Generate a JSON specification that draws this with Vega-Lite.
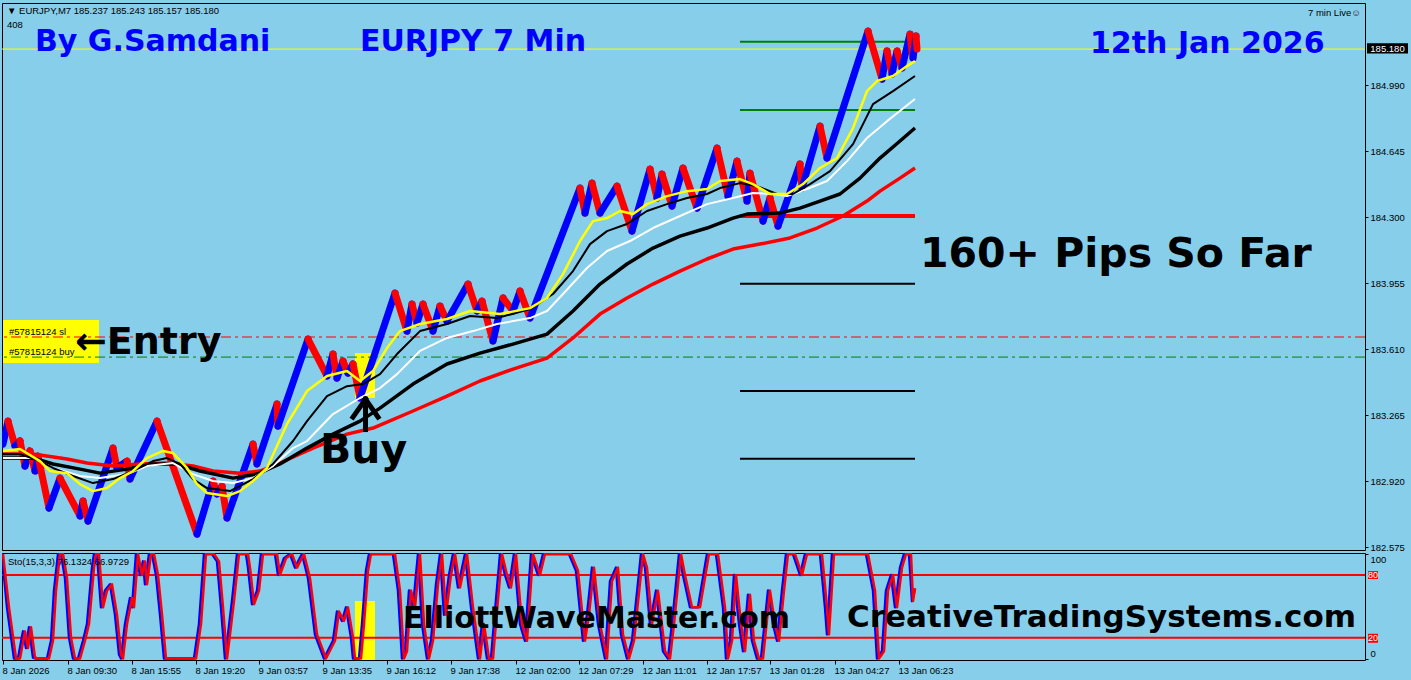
{
"$schema": "https://vega.github.io/schema/vega-lite/v6.json",
"background": "#87CEEB",
"padding": {"left": 0, "top": 2, "right": 3, "bottom": 6},
"spacing": 3,
"bounds": "flush",
"config": {"view": {"stroke": "#000000", "strokeWidth": 1}, "axis": {"labelFont": "Liberation Sans", "labelFontSize": 9.5, "labelColor": "#000000", "tickColor": "#000000", "domain": false, "grid": false, "tickSize": 3, "labelPadding": 2}},
"datasets": {
"seg": [
{"b":0,"p":183.114,"b2":5,"p2":183.234,"d":"u"},{"b":5,"p":183.234,"b2":12,"p2":183.104,"d":"d"},{"b":12,"p":183.104,"b2":17,"p2":183.130,"d":"u"},{"b":17,"p":183.130,"b2":22,"p2":182.999,"d":"d"},{"b":22,"p":182.999,"b2":27,"p2":183.078,"d":"u"},{"b":27,"p":183.078,"b2":32,"p2":182.973,"d":"d"},{"b":32,"p":182.973,"b2":35,"p2":183.051,"d":"u"},{"b":35,"p":183.051,"b2":46,"p2":182.779,"d":"d"},{"b":46,"p":182.779,"b2":57,"p2":182.936,"d":"u"},{"b":57,"p":182.936,"b2":77,"p2":182.738,"d":"d"},{"b":77,"p":182.738,"b2":80,"p2":182.816,"d":"u"},{"b":80,"p":182.816,"b2":85,"p2":182.711,"d":"d"},{"b":85,"p":182.711,"b2":110,"p2":183.093,"d":"u"},{"b":110,"p":183.093,"b2":114,"p2":182.989,"d":"d"},{"b":114,"p":182.989,"b2":124,"p2":183.025,"d":"u"},{"b":124,"p":183.025,"b2":127,"p2":182.931,"d":"d"},{"b":127,"p":182.931,"b2":154,"p2":183.234,"d":"u"},{"b":154,"p":183.234,"b2":194,"p2":182.643,"d":"d"},{"b":194,"p":182.643,"b2":210,"p2":182.921,"d":"u"},{"b":210,"p":182.921,"b2":214,"p2":182.853,"d":"d"},{"b":214,"p":182.853,"b2":219,"p2":182.894,"d":"u"},{"b":219,"p":182.894,"b2":224,"p2":182.727,"d":"d"},{"b":224,"p":182.727,"b2":250,"p2":183.114,"d":"u"},{"b":250,"p":183.114,"b2":254,"p2":183.010,"d":"d"},{"b":254,"p":183.010,"b2":274,"p2":183.323,"d":"u"},{"b":274,"p":183.323,"b2":275,"p2":183.208,"d":"d"},{"b":275,"p":183.208,"b2":305,"p2":183.663,"d":"u"},{"b":305,"p":183.663,"b2":324,"p2":183.470,"d":"d"},{"b":324,"p":183.470,"b2":330,"p2":183.585,"d":"u"},{"b":330,"p":183.585,"b2":334,"p2":183.459,"d":"d"},{"b":334,"p":183.459,"b2":340,"p2":183.548,"d":"u"},{"b":340,"p":183.548,"b2":345,"p2":183.485,"d":"d"},{"b":345,"p":183.485,"b2":350,"p2":183.533,"d":"u"},{"b":350,"p":183.533,"b2":357,"p2":183.355,"d":"d"},{"b":357,"p":183.355,"b2":392,"p2":183.904,"d":"u"},{"b":392,"p":183.904,"b2":404,"p2":183.705,"d":"d"},{"b":404,"p":183.705,"b2":409,"p2":183.846,"d":"u"},{"b":409,"p":183.846,"b2":414,"p2":183.747,"d":"d"},{"b":414,"p":183.747,"b2":420,"p2":183.846,"d":"u"},{"b":420,"p":183.846,"b2":430,"p2":183.705,"d":"d"},{"b":430,"p":183.705,"b2":437,"p2":183.836,"d":"u"},{"b":437,"p":183.836,"b2":444,"p2":183.757,"d":"d"},{"b":444,"p":183.757,"b2":465,"p2":183.951,"d":"u"},{"b":465,"p":183.951,"b2":474,"p2":183.810,"d":"d"},{"b":474,"p":183.810,"b2":479,"p2":183.862,"d":"u"},{"b":479,"p":183.862,"b2":490,"p2":183.653,"d":"d"},{"b":490,"p":183.653,"b2":500,"p2":183.878,"d":"u"},{"b":500,"p":183.878,"b2":510,"p2":183.810,"d":"d"},{"b":510,"p":183.810,"b2":517,"p2":183.914,"d":"u"},{"b":517,"p":183.914,"b2":527,"p2":183.773,"d":"d"},{"b":527,"p":183.773,"b2":577,"p2":184.453,"d":"u"},{"b":577,"p":184.453,"b2":582,"p2":184.322,"d":"d"},{"b":582,"p":184.322,"b2":589,"p2":184.479,"d":"u"},{"b":589,"p":184.479,"b2":597,"p2":184.322,"d":"d"},{"b":597,"p":184.322,"b2":614,"p2":184.463,"d":"u"},{"b":614,"p":184.463,"b2":629,"p2":184.228,"d":"d"},{"b":629,"p":184.228,"b2":647,"p2":184.552,"d":"u"},{"b":647,"p":184.552,"b2":654,"p2":184.401,"d":"d"},{"b":654,"p":184.401,"b2":659,"p2":184.526,"d":"u"},{"b":659,"p":184.526,"b2":669,"p2":184.359,"d":"d"},{"b":669,"p":184.359,"b2":680,"p2":184.558,"d":"u"},{"b":680,"p":184.558,"b2":694,"p2":184.348,"d":"d"},{"b":694,"p":184.348,"b2":714,"p2":184.662,"d":"u"},{"b":714,"p":184.662,"b2":725,"p2":184.411,"d":"d"},{"b":725,"p":184.411,"b2":734,"p2":184.594,"d":"u"},{"b":734,"p":184.594,"b2":744,"p2":184.385,"d":"d"},{"b":744,"p":184.385,"b2":747,"p2":184.531,"d":"u"},{"b":747,"p":184.531,"b2":760,"p2":184.280,"d":"d"},{"b":760,"p":184.280,"b2":767,"p2":184.401,"d":"u"},{"b":767,"p":184.401,"b2":775,"p2":184.254,"d":"d"},{"b":775,"p":184.254,"b2":797,"p2":184.579,"d":"u"},{"b":797,"p":184.579,"b2":799,"p2":184.453,"d":"d"},{"b":799,"p":184.453,"b2":817,"p2":184.777,"d":"u"},{"b":817,"p":184.777,"b2":824,"p2":184.610,"d":"d"},{"b":824,"p":184.610,"b2":865,"p2":185.274,"d":"u"},{"b":865,"p":185.274,"b2":879,"p2":185.023,"d":"d"},{"b":879,"p":185.023,"b2":884,"p2":185.170,"d":"u"},{"b":884,"p":185.170,"b2":889,"p2":185.049,"d":"d"},{"b":889,"p":185.049,"b2":894,"p2":185.170,"d":"u"},{"b":894,"p":185.170,"b2":899,"p2":185.081,"d":"d"},{"b":899,"p":185.081,"b2":907,"p2":185.258,"d":"u"},{"b":907,"p":185.258,"b2":910,"p2":185.133,"d":"d"},{"b":910,"p":185.133,"b2":913,"p2":185.248,"d":"u"},{"b":913,"p":185.248,"b2":914,"p2":185.180,"d":"d"}
],
"ma": [
{"m":"y","b":0,"p":183.078},{"m":"y","b":17,"p":183.088},{"m":"y","b":37,"p":183.025},{"m":"y","b":47,"p":182.973},{"m":"y","b":64,"p":182.962},{"m":"y","b":77,"p":182.905},{"m":"y","b":90,"p":182.868},{"m":"y","b":104,"p":182.884},{"m":"y","b":117,"p":182.936},{"m":"y","b":130,"p":182.973},{"m":"y","b":144,"p":183.041},{"m":"y","b":160,"p":183.078},{"m":"y","b":170,"p":183.067},{"m":"y","b":184,"p":182.989},{"m":"y","b":194,"p":182.905},{"m":"y","b":204,"p":182.858},{"m":"y","b":224,"p":182.842},{"m":"y","b":237,"p":182.868},{"m":"y","b":250,"p":182.921},{"m":"y","b":264,"p":182.989},{"m":"y","b":284,"p":183.219},{"m":"y","b":304,"p":183.391},{"m":"y","b":324,"p":183.470},{"m":"y","b":344,"p":183.496},{"m":"y","b":357,"p":183.444},{"m":"y","b":370,"p":183.496},{"m":"y","b":384,"p":183.616},{"m":"y","b":397,"p":183.705},{"m":"y","b":417,"p":183.742},{"m":"y","b":444,"p":183.768},{"m":"y","b":467,"p":183.810},{"m":"y","b":497,"p":183.794},{"m":"y","b":527,"p":183.825},{"m":"y","b":544,"p":183.878},{"m":"y","b":560,"p":184.003},{"m":"y","b":577,"p":184.176},{"m":"y","b":590,"p":184.280},{"m":"y","b":604,"p":184.296},{"m":"y","b":617,"p":184.333},{"m":"y","b":630,"p":184.317},{"m":"y","b":644,"p":184.369},{"m":"y","b":664,"p":184.411},{"m":"y","b":684,"p":184.437},{"m":"y","b":704,"p":184.448},{"m":"y","b":717,"p":184.490},{"m":"y","b":737,"p":184.500},{"m":"y","b":750,"p":184.474},{"m":"y","b":767,"p":184.422},{"m":"y","b":784,"p":184.422},{"m":"y","b":800,"p":184.474},{"m":"y","b":817,"p":184.558},{"m":"y","b":834,"p":184.610},{"m":"y","b":850,"p":184.767},{"m":"y","b":864,"p":184.960},{"m":"y","b":874,"p":185.013},{"m":"y","b":890,"p":185.039},{"m":"y","b":904,"p":185.091},{"m":"y","b":912,"p":185.117},
{"m":"k1","b":0,"p":183.062},{"m":"k1","b":17,"p":183.062},{"m":"k1","b":37,"p":183.025},{"m":"k1","b":50,"p":182.989},{"m":"k1","b":70,"p":182.947},{"m":"k1","b":90,"p":182.910},{"m":"k1","b":110,"p":182.931},{"m":"k1","b":130,"p":182.973},{"m":"k1","b":150,"p":183.025},{"m":"k1","b":164,"p":183.041},{"m":"k1","b":177,"p":183.010},{"m":"k1","b":190,"p":182.931},{"m":"k1","b":204,"p":182.884},{"m":"k1","b":227,"p":182.868},{"m":"k1","b":250,"p":182.931},{"m":"k1","b":270,"p":183.010},{"m":"k1","b":290,"p":183.130},{"m":"k1","b":304,"p":183.234},{"m":"k1","b":324,"p":183.365},{"m":"k1","b":344,"p":183.417},{"m":"k1","b":360,"p":183.428},{"m":"k1","b":377,"p":183.480},{"m":"k1","b":394,"p":183.585},{"m":"k1","b":417,"p":183.705},{"m":"k1","b":444,"p":183.742},{"m":"k1","b":467,"p":183.784},{"m":"k1","b":494,"p":183.773},{"m":"k1","b":527,"p":183.820},{"m":"k1","b":550,"p":183.899},{"m":"k1","b":570,"p":184.019},{"m":"k1","b":587,"p":184.160},{"m":"k1","b":604,"p":184.228},{"m":"k1","b":624,"p":184.265},{"m":"k1","b":644,"p":184.333},{"m":"k1","b":664,"p":184.369},{"m":"k1","b":684,"p":184.401},{"m":"k1","b":704,"p":184.422},{"m":"k1","b":717,"p":184.453},{"m":"k1","b":737,"p":184.479},{"m":"k1","b":754,"p":184.463},{"m":"k1","b":774,"p":184.422},{"m":"k1","b":790,"p":184.422},{"m":"k1","b":807,"p":184.474},{"m":"k1","b":827,"p":184.542},{"m":"k1","b":850,"p":184.683},{"m":"k1","b":870,"p":184.892},{"m":"k1","b":890,"p":184.960},{"m":"k1","b":912,"p":185.039},
{"m":"w","b":0,"p":183.041},{"m":"w","b":30,"p":183.041},{"m":"w","b":50,"p":182.989},{"m":"w","b":77,"p":182.947},{"m":"w","b":97,"p":182.936},{"m":"w","b":124,"p":182.957},{"m":"w","b":144,"p":182.999},{"m":"w","b":170,"p":183.015},{"m":"w","b":190,"p":182.957},{"m":"w","b":210,"p":182.921},{"m":"w","b":230,"p":182.910},{"m":"w","b":250,"p":182.936},{"m":"w","b":270,"p":182.999},{"m":"w","b":290,"p":183.093},{"m":"w","b":304,"p":183.130},{"m":"w","b":330,"p":183.271},{"m":"w","b":357,"p":183.355},{"m":"w","b":377,"p":183.407},{"m":"w","b":394,"p":183.480},{"m":"w","b":417,"p":183.601},{"m":"w","b":444,"p":183.669},{"m":"w","b":470,"p":183.705},{"m":"w","b":494,"p":183.742},{"m":"w","b":527,"p":183.773},{"m":"w","b":544,"p":183.810},{"m":"w","b":560,"p":183.899},{"m":"w","b":584,"p":184.035},{"m":"w","b":604,"p":184.124},{"m":"w","b":627,"p":184.176},{"m":"w","b":650,"p":184.244},{"m":"w","b":677,"p":184.307},{"m":"w","b":704,"p":184.369},{"m":"w","b":730,"p":184.401},{"m":"w","b":750,"p":184.427},{"m":"w","b":770,"p":184.422},{"m":"w","b":784,"p":184.411},{"m":"w","b":804,"p":184.448},{"m":"w","b":824,"p":184.490},{"m":"w","b":844,"p":184.594},{"m":"w","b":864,"p":184.715},{"m":"w","b":884,"p":184.803},{"m":"w","b":912,"p":184.919},
{"m":"k2","b":0,"p":183.041},{"m":"k2","b":30,"p":183.041},{"m":"k2","b":50,"p":183.010},{"m":"k2","b":77,"p":182.983},{"m":"k2","b":97,"p":182.962},{"m":"k2","b":124,"p":182.983},{"m":"k2","b":150,"p":183.010},{"m":"k2","b":174,"p":183.010},{"m":"k2","b":197,"p":182.973},{"m":"k2","b":230,"p":182.936},{"m":"k2","b":254,"p":182.957},{"m":"k2","b":277,"p":183.010},{"m":"k2","b":304,"p":183.093},{"m":"k2","b":330,"p":183.166},{"m":"k2","b":357,"p":183.234},{"m":"k2","b":377,"p":183.302},{"m":"k2","b":410,"p":183.428},{"m":"k2","b":444,"p":183.533},{"m":"k2","b":477,"p":183.590},{"m":"k2","b":510,"p":183.637},{"m":"k2","b":544,"p":183.689},{"m":"k2","b":570,"p":183.810},{"m":"k2","b":597,"p":183.951},{"m":"k2","b":624,"p":184.056},{"m":"k2","b":650,"p":184.139},{"m":"k2","b":677,"p":184.202},{"m":"k2","b":704,"p":184.244},{"m":"k2","b":730,"p":184.296},{"m":"k2","b":744,"p":184.317},{"m":"k2","b":777,"p":184.322},{"m":"k2","b":797,"p":184.348},{"m":"k2","b":817,"p":184.385},{"m":"k2","b":837,"p":184.422},{"m":"k2","b":857,"p":184.505},{"m":"k2","b":877,"p":184.610},{"m":"k2","b":897,"p":184.699},{"m":"k2","b":912,"p":184.767},
{"m":"r","b":0,"p":183.062},{"m":"r","b":30,"p":183.062},{"m":"r","b":64,"p":183.036},{"m":"r","b":84,"p":183.015},{"m":"r","b":110,"p":182.999},{"m":"r","b":137,"p":183.010},{"m":"r","b":164,"p":183.015},{"m":"r","b":190,"p":182.999},{"m":"r","b":210,"p":182.973},{"m":"r","b":237,"p":182.962},{"m":"r","b":257,"p":182.973},{"m":"r","b":277,"p":183.015},{"m":"r","b":297,"p":183.062},{"m":"r","b":310,"p":183.093},{"m":"r","b":344,"p":183.166},{"m":"r","b":370,"p":183.198},{"m":"r","b":410,"p":183.287},{"m":"r","b":444,"p":183.365},{"m":"r","b":477,"p":183.444},{"m":"r","b":510,"p":183.506},{"m":"r","b":544,"p":183.564},{"m":"r","b":570,"p":183.669},{"m":"r","b":597,"p":183.794},{"m":"r","b":624,"p":183.878},{"m":"r","b":650,"p":183.951},{"m":"r","b":677,"p":184.019},{"m":"r","b":704,"p":184.082},{"m":"r","b":730,"p":184.134},{"m":"r","b":757,"p":184.160},{"m":"r","b":787,"p":184.192},{"m":"r","b":814,"p":184.244},{"m":"r","b":840,"p":184.307},{"m":"r","b":864,"p":184.385},{"m":"r","b":877,"p":184.437},{"m":"r","b":897,"p":184.505},{"m":"r","b":912,"p":184.558}
],
"sto": [
{"b":0,"k":-1,"v":100},{"b":6,"k":4,"v":49},{"b":13,"k":11,"v":0},{"b":17,"k":15,"v":0},{"b":22,"k":20,"v":26},{"b":25,"k":23,"v":10},{"b":28,"k":26,"v":30},{"b":32,"k":30,"v":1},{"b":35,"k":33,"v":0},{"b":46,"k":44,"v":0},{"b":50,"k":48,"v":17},{"b":53,"k":51,"v":65},{"b":57,"k":55,"v":100},{"b":60,"k":58,"v":100},{"b":64,"k":62,"v":77},{"b":68,"k":66,"v":20},{"b":72,"k":70,"v":0},{"b":77,"k":75,"v":0},{"b":82,"k":80,"v":17},{"b":86,"k":84,"v":33},{"b":91,"k":89,"v":87},{"b":93,"k":91,"v":100},{"b":96,"k":94,"v":100},{"b":100,"k":98,"v":49},{"b":104,"k":102,"v":65},{"b":109,"k":107,"v":71},{"b":114,"k":112,"v":42},{"b":118,"k":116,"v":4},{"b":120,"k":118,"v":0},{"b":124,"k":122,"v":33},{"b":129,"k":127,"v":58},{"b":131,"k":129,"v":49},{"b":135,"k":133,"v":100},{"b":139,"k":137,"v":80},{"b":142,"k":140,"v":93},{"b":144,"k":142,"v":71},{"b":148,"k":146,"v":100},{"b":151,"k":149,"v":100},{"b":155,"k":153,"v":80},{"b":159,"k":157,"v":42},{"b":163,"k":161,"v":0},{"b":193,"k":191,"v":0},{"b":198,"k":196,"v":33},{"b":203,"k":201,"v":100},{"b":211,"k":209,"v":100},{"b":216,"k":214,"v":93},{"b":220,"k":218,"v":49},{"b":224,"k":222,"v":0},{"b":227,"k":225,"v":23},{"b":231,"k":229,"v":55},{"b":236,"k":234,"v":100},{"b":245,"k":243,"v":100},{"b":247,"k":245,"v":87},{"b":251,"k":249,"v":52},{"b":256,"k":254,"v":65},{"b":260,"k":258,"v":100},{"b":274,"k":272,"v":100},{"b":277,"k":275,"v":80},{"b":283,"k":281,"v":96},{"b":289,"k":287,"v":100},{"b":294,"k":292,"v":87},{"b":301,"k":299,"v":100},{"b":307,"k":305,"v":77},{"b":314,"k":312,"v":23},{"b":323,"k":321,"v":0},{"b":332,"k":330,"v":17},{"b":336,"k":334,"v":45},{"b":341,"k":339,"v":36},{"b":345,"k":343,"v":49},{"b":350,"k":348,"v":20},{"b":352,"k":350,"v":0},{"b":358,"k":356,"v":0},{"b":361,"k":359,"v":33},{"b":365,"k":363,"v":84},{"b":368,"k":366,"v":100},{"b":392,"k":390,"v":100},{"b":397,"k":395,"v":65},{"b":401,"k":399,"v":0},{"b":404,"k":402,"v":7},{"b":408,"k":406,"v":65},{"b":412,"k":410,"v":49},{"b":417,"k":415,"v":100},{"b":421,"k":419,"v":33},{"b":426,"k":424,"v":0},{"b":430,"k":428,"v":17},{"b":435,"k":433,"v":71},{"b":439,"k":437,"v":100},{"b":443,"k":441,"v":42},{"b":448,"k":446,"v":80},{"b":452,"k":450,"v":100},{"b":457,"k":455,"v":68},{"b":464,"k":462,"v":100},{"b":470,"k":468,"v":49},{"b":477,"k":475,"v":0},{"b":481,"k":479,"v":33},{"b":486,"k":484,"v":0},{"b":490,"k":488,"v":0},{"b":492,"k":490,"v":23},{"b":499,"k":497,"v":100},{"b":504,"k":502,"v":80},{"b":508,"k":506,"v":68},{"b":513,"k":511,"v":100},{"b":519,"k":517,"v":33},{"b":524,"k":522,"v":17},{"b":530,"k":528,"v":100},{"b":537,"k":535,"v":80},{"b":542,"k":540,"v":100},{"b":568,"k":566,"v":100},{"b":575,"k":573,"v":84},{"b":582,"k":580,"v":17},{"b":586,"k":584,"v":42},{"b":591,"k":589,"v":87},{"b":597,"k":595,"v":33},{"b":604,"k":602,"v":0},{"b":609,"k":607,"v":74},{"b":615,"k":613,"v":87},{"b":620,"k":618,"v":23},{"b":626,"k":624,"v":0},{"b":631,"k":629,"v":17},{"b":640,"k":638,"v":100},{"b":644,"k":642,"v":87},{"b":649,"k":647,"v":33},{"b":655,"k":653,"v":65},{"b":662,"k":660,"v":7},{"b":667,"k":665,"v":0},{"b":671,"k":669,"v":33},{"b":678,"k":676,"v":100},{"b":682,"k":680,"v":80},{"b":689,"k":687,"v":49},{"b":697,"k":695,"v":49},{"b":706,"k":704,"v":100},{"b":715,"k":713,"v":100},{"b":722,"k":720,"v":49},{"b":725,"k":723,"v":0},{"b":729,"k":727,"v":17},{"b":733,"k":731,"v":80},{"b":738,"k":736,"v":33},{"b":742,"k":740,"v":7},{"b":747,"k":745,"v":61},{"b":751,"k":749,"v":17},{"b":756,"k":754,"v":0},{"b":760,"k":758,"v":0},{"b":767,"k":765,"v":65},{"b":772,"k":770,"v":33},{"b":776,"k":774,"v":17},{"b":781,"k":779,"v":65},{"b":785,"k":783,"v":100},{"b":792,"k":790,"v":100},{"b":799,"k":797,"v":80},{"b":804,"k":802,"v":100},{"b":819,"k":817,"v":100},{"b":824,"k":822,"v":49},{"b":826,"k":824,"v":23},{"b":831,"k":829,"v":100},{"b":865,"k":863,"v":100},{"b":872,"k":870,"v":65},{"b":876,"k":874,"v":0},{"b":881,"k":879,"v":7},{"b":885,"k":883,"v":65},{"b":890,"k":888,"v":80},{"b":894,"k":892,"v":49},{"b":899,"k":897,"v":87},{"b":903,"k":901,"v":100},{"b":908,"k":906,"v":100},{"b":910,"k":909,"v":55},{"b":912,"k":912,"v":67}
]
},
"vconcat": [
{
"width": 1363, "height": 547,
"layer": [
{"data": {"values": [{"b":0,"b2":96,"p":183.538,"p2":183.763},{"b":352,"b2":372,"p":183.355,"p2":183.590}]},
 "mark": {"type": "rect", "color": "#FFFF00"},
 "encoding": {
  "x": {"field": "b", "type": "quantitative", "scale": {"domain": [-1, 1362], "nice": false, "zero": false}, "axis": null},
  "x2": {"field": "b2"},
  "y": {"field": "p", "type": "quantitative", "scale": {"domain": [182.56, 185.421], "nice": false, "zero": false}, "axis": {"orient": "right", "values": [185.335,184.99,184.815,184.645,184.47,184.3,184.125,183.955,183.78,183.61,183.435,183.265,183.09,182.92,182.745,182.575], "format": ".3f", "title": null, "labelOverlap": false}},
  "y2": {"field": "p2"}}},
{"data": {"values": [{"p":185.18}]}, "mark": {"type": "rule", "color": "#FFFF00", "strokeWidth": 1}, "encoding": {"y": {"field": "p", "type": "quantitative", "title": null}}},
{"data": {"values": [{"p":183.674}]}, "mark": {"type": "rule", "color": "#FF0000", "strokeWidth": 1, "strokeDash": [10,4,3,4]}, "encoding": {"y": {"field": "p", "type": "quantitative", "title": null}}},
{"data": {"values": [{"p":183.569}]}, "mark": {"type": "rule", "color": "#008000", "strokeWidth": 1, "strokeDash": [10,4,3,4]}, "encoding": {"y": {"field": "p", "type": "quantitative", "title": null}}},
{"data": {"values": [{"b":737,"b2":912,"p":185.218},{"b":737,"b2":912,"p":184.861}]}, "mark": {"type": "rule", "color": "#008000", "strokeWidth": 2}, "encoding": {"x": {"field": "b", "type": "quantitative", "axis": null, "title": null}, "x2": {"field": "b2"}, "y": {"field": "p", "type": "quantitative", "title": null}}},
{"data": {"values": [{"b":737,"b2":912,"p":183.952},{"b":737,"b2":912,"p":183.391},{"b":737,"b2":912,"p":183.037}]}, "mark": {"type": "rule", "color": "#000000", "strokeWidth": 2}, "encoding": {"x": {"field": "b", "type": "quantitative", "axis": null, "title": null}, "x2": {"field": "b2"}, "y": {"field": "p", "type": "quantitative", "title": null}}},
{"data": {"values": [{"b":737,"b2":912,"p":184.307}]}, "mark": {"type": "rule", "color": "#FF0000", "strokeWidth": 4}, "encoding": {"x": {"field": "b", "type": "quantitative", "axis": null, "title": null}, "x2": {"field": "b2"}, "y": {"field": "p", "type": "quantitative", "title": null}}},
{"data": {"name": "seg"}, "mark": {"type": "rule", "strokeWidth": 7, "strokeCap": "round", "clip": true},
 "encoding": {"x": {"field": "b", "type": "quantitative", "axis": null, "title": null}, "x2": {"field": "b2"}, "y": {"field": "p", "type": "quantitative", "title": null}, "y2": {"field": "p2"},
  "color": {"field": "d", "type": "nominal", "scale": {"domain": ["u","d"], "range": ["#0000FF","#FF0000"]}, "legend": null}}},
{"data": {"name": "ma"}, "transform": [{"filter": "datum.m == 'r'"}], "mark": {"type": "line", "color": "#FF0000", "strokeWidth": 3.5, "strokeJoin": "round", "clip": true}, "encoding": {"x": {"field": "b", "type": "quantitative", "axis": null, "title": null}, "y": {"field": "p", "type": "quantitative", "title": null}}},
{"data": {"name": "ma"}, "transform": [{"filter": "datum.m == 'k2'"}], "mark": {"type": "line", "color": "#000000", "strokeWidth": 3.5, "strokeJoin": "round", "clip": true}, "encoding": {"x": {"field": "b", "type": "quantitative", "axis": null, "title": null}, "y": {"field": "p", "type": "quantitative", "title": null}}},
{"data": {"name": "ma"}, "transform": [{"filter": "datum.m == 'w'"}], "mark": {"type": "line", "color": "#FFFFFF", "strokeWidth": 2, "strokeJoin": "round", "clip": true}, "encoding": {"x": {"field": "b", "type": "quantitative", "axis": null, "title": null}, "y": {"field": "p", "type": "quantitative", "title": null}}},
{"data": {"name": "ma"}, "transform": [{"filter": "datum.m == 'k1'"}], "mark": {"type": "line", "color": "#000000", "strokeWidth": 2, "strokeJoin": "round", "clip": true}, "encoding": {"x": {"field": "b", "type": "quantitative", "axis": null, "title": null}, "y": {"field": "p", "type": "quantitative", "title": null}}},
{"data": {"name": "ma"}, "transform": [{"filter": "datum.m == 'y'"}], "mark": {"type": "line", "color": "#FFFF00", "strokeWidth": 2.5, "strokeJoin": "round", "clip": true}, "encoding": {"x": {"field": "b", "type": "quantitative", "axis": null, "title": null}, "y": {"field": "p", "type": "quantitative", "title": null}}},
{"data": {"values": [{"b":362.5,"p":183.349,"b2":362.5,"p2":183.190},{"b":350,"p":183.255,"b2":362.5,"p2":183.349},{"b":375,"p":183.255,"b2":362.5,"p2":183.349}]}, "mark": {"type": "rule", "color": "#000000", "strokeWidth": 5, "strokeCap": "square"}, "encoding": {"x": {"field": "b", "type": "quantitative", "axis": null, "title": null}, "x2": {"field": "b2"}, "y": {"field": "p", "type": "quantitative", "title": null}, "y2": {"field": "p2"}}},
{"data": {"values": [{"b":32,"p":185.170,"t":"By G.Samdani"},{"b":357,"p":185.170,"t":"EURJPY 7 Min"},{"b":1087,"p":185.160,"t":"12th Jan 2026"}]}, "mark": {"type": "text", "font": "DejaVu Sans", "fontWeight": "bold", "fontSize": 30, "color": "#0000FF", "align": "left", "baseline": "alphabetic"}, "encoding": {"x": {"field": "b", "type": "quantitative", "axis": null, "title": null}, "y": {"field": "p", "type": "quantitative", "title": null}, "text": {"field": "t"}}},
{"data": {"values": [{"b":917,"p":184.040,"t":"160+ Pips So Far"},{"b":317,"p":183.015,"t":"Buy"}]}, "mark": {"type": "text", "font": "DejaVu Sans", "fontWeight": "bold", "fontSize": 41, "color": "#000000", "align": "left", "baseline": "alphabetic"}, "encoding": {"x": {"field": "b", "type": "quantitative", "axis": null, "title": null}, "y": {"field": "p", "type": "quantitative", "title": null}, "text": {"field": "t"}}},
{"data": {"values": [{"b":72,"p":183.585,"t":"←Entry"}]}, "mark": {"type": "text", "font": "DejaVu Sans", "fontWeight": "bold", "fontSize": 38, "color": "#000000", "align": "left", "baseline": "alphabetic"}, "encoding": {"x": {"field": "b", "type": "quantitative", "axis": null, "title": null}, "y": {"field": "p", "type": "quantitative", "title": null}, "text": {"field": "t"}}},
{"data": {"values": [{"b":4,"p":185.362,"t":"▼ EURJPY,M7  185.237 185.243 185.157 185.180"},{"b":4,"p":185.291,"t":"408"},{"b":6,"p":183.684,"t":"#57815124 sl"},{"b":6,"p":183.580,"t":"#57815124 buy"}]}, "mark": {"type": "text", "font": "Liberation Sans", "fontSize": 9.5, "color": "#000000", "align": "left", "baseline": "alphabetic"}, "encoding": {"x": {"field": "b", "type": "quantitative", "axis": null, "title": null}, "y": {"field": "p", "type": "quantitative", "title": null}, "text": {"field": "t"}}},
{"data": {"values": [{"b":1358,"p":185.353,"t":"7 min Live☺"}]}, "mark": {"type": "text", "font": "Liberation Sans", "fontSize": 9.5, "color": "#000000", "align": "right", "baseline": "alphabetic"}, "encoding": {"x": {"field": "b", "type": "quantitative", "axis": null, "title": null}, "y": {"field": "p", "type": "quantitative", "title": null}, "text": {"field": "t"}}},
{"data": {"values": [{"b":1364,"b2":1405,"p":185.157,"p2":185.210}]}, "mark": {"type": "rect", "color": "#000000"}, "encoding": {"x": {"field": "b", "type": "quantitative", "axis": null, "title": null}, "x2": {"field": "b2"}, "y": {"field": "p", "type": "quantitative", "title": null}, "y2": {"field": "p2"}}},
{"data": {"values": [{"b":1384.5,"p":185.183,"t":"185.180"}]}, "mark": {"type": "text", "font": "Liberation Sans", "fontSize": 9.5, "color": "#FFFFFF", "align": "center", "baseline": "middle"}, "encoding": {"x": {"field": "b", "type": "quantitative", "axis": null, "title": null}, "y": {"field": "p", "type": "quantitative", "title": null}, "text": {"field": "t"}}}
]
},
{
"width": 1363, "height": 107,
"layer": [
{"data": {"values": [{"b":352,"b2":372,"v":-1.4,"v2":55}]}, "mark": {"type": "rect", "color": "#FFFF00"},
 "encoding": {
  "x": {"field": "b", "type": "quantitative", "scale": {"domain": [-1, 1362], "nice": false, "zero": false}, "title": null,
   "axis": {"values": [0,65,129,193,256,320,384,448,513,576,640,704,767,832,896], "labelExpr": "['8 Jan 2026','8 Jan 09:30','8 Jan 15:55','8 Jan 19:20','9 Jan 03:57','9 Jan 13:35','9 Jan 16:12','9 Jan 17:38','12 Jan 02:00','12 Jan 07:29','12 Jan 11:01','12 Jan 17:57','13 Jan 01:28','13 Jan 04:27','13 Jan 06:23'][indexof([0,65,129,193,256,320,384,448,513,576,640,704,767,832,896], datum.value)]", "labelAlign": "left", "labelOffset": -1, "labelFlush": false, "labelOverlap": false, "labelBound": false, "tickSize": 4, "labelPadding": 1}},
  "x2": {"field": "b2"},
  "y": {"field": "v", "type": "quantitative", "scale": {"domain": [-1.4, 101], "nice": false, "zero": false}, "title": null,
   "axis": {"orient": "right", "values": [0, 100], "format": "d", "labelBaseline": {"condition": {"test": "datum.value >= 100", "value": "top"}, "value": "bottom"}}},
  "y2": {"field": "v2"}}},
{"data": {"values": [{"v":80},{"v":20}]}, "mark": {"type": "rule", "color": "#FF0000", "strokeWidth": 2}, "encoding": {"y": {"field": "v", "type": "quantitative", "title": null}}},
{"data": {"name": "sto"}, "mark": {"type": "line", "color": "#0000FF", "strokeWidth": 2.5, "strokeJoin": "round", "clip": true}, "encoding": {"x": {"field": "k", "type": "quantitative", "title": null}, "y": {"field": "v", "type": "quantitative", "title": null}}},
{"data": {"name": "sto"}, "mark": {"type": "line", "color": "#FF0000", "strokeWidth": 2.5, "strokeJoin": "round", "clip": true}, "encoding": {"x": {"field": "b", "type": "quantitative", "title": null}, "y": {"field": "v", "type": "quantitative", "title": null}}},
{"data": {"values": [{"b":5,"v":89.5,"t":"Sto(15,3,3) 76.1324 66.9729"}]}, "mark": {"type": "text", "font": "Liberation Sans", "fontSize": 9.5, "color": "#000000", "align": "left", "baseline": "alphabetic"}, "encoding": {"x": {"field": "b", "type": "quantitative", "title": null}, "y": {"field": "v", "type": "quantitative", "title": null}, "text": {"field": "t"}}},
{"data": {"values": [{"b":400,"v":29.2,"t":"ElliottWaveMaster.com"}]}, "mark": {"type": "text", "font": "DejaVu Sans", "fontWeight": "bold", "fontSize": 30, "color": "#000000", "align": "left", "baseline": "alphabetic"}, "encoding": {"x": {"field": "b", "type": "quantitative", "title": null}, "y": {"field": "v", "type": "quantitative", "title": null}, "text": {"field": "t"}}},
{"data": {"values": [{"b":844,"v":30,"t":"CreativeTradingSystems.com"}]}, "mark": {"type": "text", "font": "DejaVu Sans", "fontWeight": "bold", "fontSize": 31, "color": "#000000", "align": "left", "baseline": "alphabetic"}, "encoding": {"x": {"field": "b", "type": "quantitative", "title": null}, "y": {"field": "v", "type": "quantitative", "title": null}, "text": {"field": "t"}}},
{"data": {"values": [{"b":1365,"b2":1375,"v":76.1,"v2":83.7},{"b":1365,"b2":1375,"v":15.1,"v2":23.7}]}, "mark": {"type": "rect", "color": "#FF0000"}, "encoding": {"x": {"field": "b", "type": "quantitative", "title": null}, "x2": {"field": "b2"}, "y": {"field": "v", "type": "quantitative", "title": null}, "y2": {"field": "v2"}}},
{"data": {"values": [{"b":1370,"v":80,"t":"80"},{"b":1370,"v":20,"t":"20"}]}, "mark": {"type": "text", "font": "Liberation Sans", "fontSize": 9, "color": "#FFFFFF", "align": "center", "baseline": "middle"}, "encoding": {"x": {"field": "b", "type": "quantitative", "title": null}, "y": {"field": "v", "type": "quantitative", "title": null}, "text": {"field": "t"}}}
]
}
]
}
